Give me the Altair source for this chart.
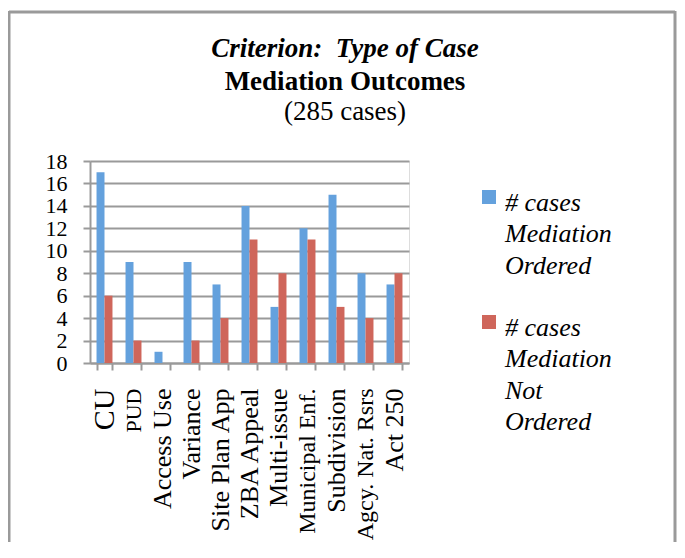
import altair as alt
import pandas as pd

categories = ["CU", "PUD", "Access Use", "Variance", "Site Plan App", "ZBA Appeal",
              "Multi-issue", "Municipal Enf.", "Subdivision", "Agcy. Nat. Rsrs", "Act 250"]
ordered = [17, 9, 1, 9, 7, 14, 5, 12, 15, 8, 7]
not_ordered = [6, 2, 0, 2, 4, 11, 8, 11, 5, 4, 8]
series_names = ["# cases|Mediation|Ordered", "# cases|Mediation|Not|Ordered"]
series_colors = ["#64a1dd", "#cf665b"]
y_ticks = [0, 2, 4, 6, 8, 10, 12, 14, 16, 18]
title_lines = ["Criterion:\u00a0 Type of Case", "Mediation Outcomes", "(285 cases)"]

rows = []
for c, a, b in zip(categories, ordered, not_ordered):
    rows.append({"category": c, "series": series_names[0], "value": a})
    rows.append({"category": c, "series": series_names[1], "value": b})
df = pd.DataFrame(rows)

FONT = "'Liberation Serif', 'Times New Roman', serif"
GRAY = "#9a9a9a"
W, H = 319, 202
TOTAL_W, TOTAL_H = 669, 534

label_size = {
    "condition": [
        {"test": "datum.value === 'CU'", "value": 30},
        {"test": "datum.value === 'PUD'", "value": 22},
        {"test": "datum.value === 'Agcy. Nat. Rsrs'", "value": 24},
        {"test": "datum.value === 'Municipal Enf.'", "value": 24},
    ],
    "value": 26,
}

bars = alt.Chart(df).mark_bar().encode(
    x=alt.X("category:N", sort=categories,
            scale=alt.Scale(paddingInner=0.45, paddingOuter=0.225),
            axis=alt.Axis(title=None, labelAngle=270, tickBand="extent",
                          labelFont=FONT, labelFontSize=label_size, labelColor="black",
                          labelPadding=18, tickSize=7, tickWidth=2, tickColor=GRAY,
                          domainColor=GRAY, domainWidth=2, grid=False,
                          labelLimit=300, labelOverlap=False)),
    xOffset=alt.XOffset("series:N", sort=series_names),
    y=alt.Y("value:Q", scale=alt.Scale(domain=[0, 18], nice=False),
            axis=alt.Axis(title=None, values=y_ticks, labelFont=FONT,
                          labelFontSize=22, labelColor="black", labelPadding=16,
                          labelOverlap=False,
                          tickSize=7, tickWidth=2, tickColor=GRAY,
                          domainColor=GRAY, domainWidth=2,
                          grid=True, gridColor=GRAY, gridWidth=2)),
    color=alt.Color("series:N", sort=series_names,
                    scale=alt.Scale(domain=series_names, range=series_colors),
                    legend=alt.Legend(title=None, orient="none", legendX=386, legendY=16,
                                      labelExpr="split(datum.label, '|')",
                                      labelFont=FONT, labelFontSize=26,
                                      labelFontStyle="italic", labelColor="black",
                                      labelBaseline="top", labelLimit=0,
                                      labelOffset=3,
                                      symbolType="M-1,0.0H1V2.0H-1Z",
                                      symbolSize=196, symbolStrokeWidth=0,
                                      rowPadding=23)),
)

tdf = pd.DataFrame({"t": title_lines})
t1 = alt.Chart(tdf).transform_filter(alt.datum.t == title_lines[0]).mark_text(
    font=FONT, fontSize=27, fontWeight="bold", fontStyle="italic", align="center",
    baseline="alphabetic", color="black").encode(
    text="t:N", x=alt.value(255), y=alt.value(-104))
t2 = alt.Chart(tdf).transform_filter(alt.datum.t == title_lines[1]).mark_text(
    font=FONT, fontSize=27, fontWeight="bold", align="center",
    baseline="alphabetic", color="black").encode(
    text="t:N", x=alt.value(255), y=alt.value(-71))
t3 = alt.Chart(tdf).transform_filter(alt.datum.t == title_lines[2]).mark_text(
    font=FONT, fontSize=27, align="center",
    baseline="alphabetic", color="black").encode(
    text="t:N", x=alt.value(255), y=alt.value(-41))

fdf = pd.DataFrame({"f": [0]})
bottom = TOTAL_H - 153 + 5
right = TOTAL_W - 82 - 2
frame_top = alt.Chart(fdf).mark_rule(stroke=GRAY, strokeWidth=3).encode(
    x=alt.value(-81), x2=alt.value(right), y=alt.value(-149))
frame_left = alt.Chart(fdf).mark_rule(stroke=GRAY, strokeWidth=3).encode(
    x=alt.value(-81), y=alt.value(-150), y2=alt.value(bottom))
frame_right = alt.Chart(fdf).mark_rule(stroke=GRAY, strokeWidth=3).encode(
    x=alt.value(right), y=alt.value(-150), y2=alt.value(bottom))

chart = alt.layer(frame_top, frame_left, frame_right, bars, t1, t2, t3).properties(
    width=W, height=H,
    autosize=alt.AutoSizeParams(type="none"),
    padding={"left": 82, "top": 153, "right": TOTAL_W - 82 - W, "bottom": TOTAL_H - 153 - H},
).configure_view(stroke=None).configure(
    style={"guide-label": {"lineHeight": 31.3}})

chart.save("out.html", embed_options={"renderer": "svg", "actions": False})
